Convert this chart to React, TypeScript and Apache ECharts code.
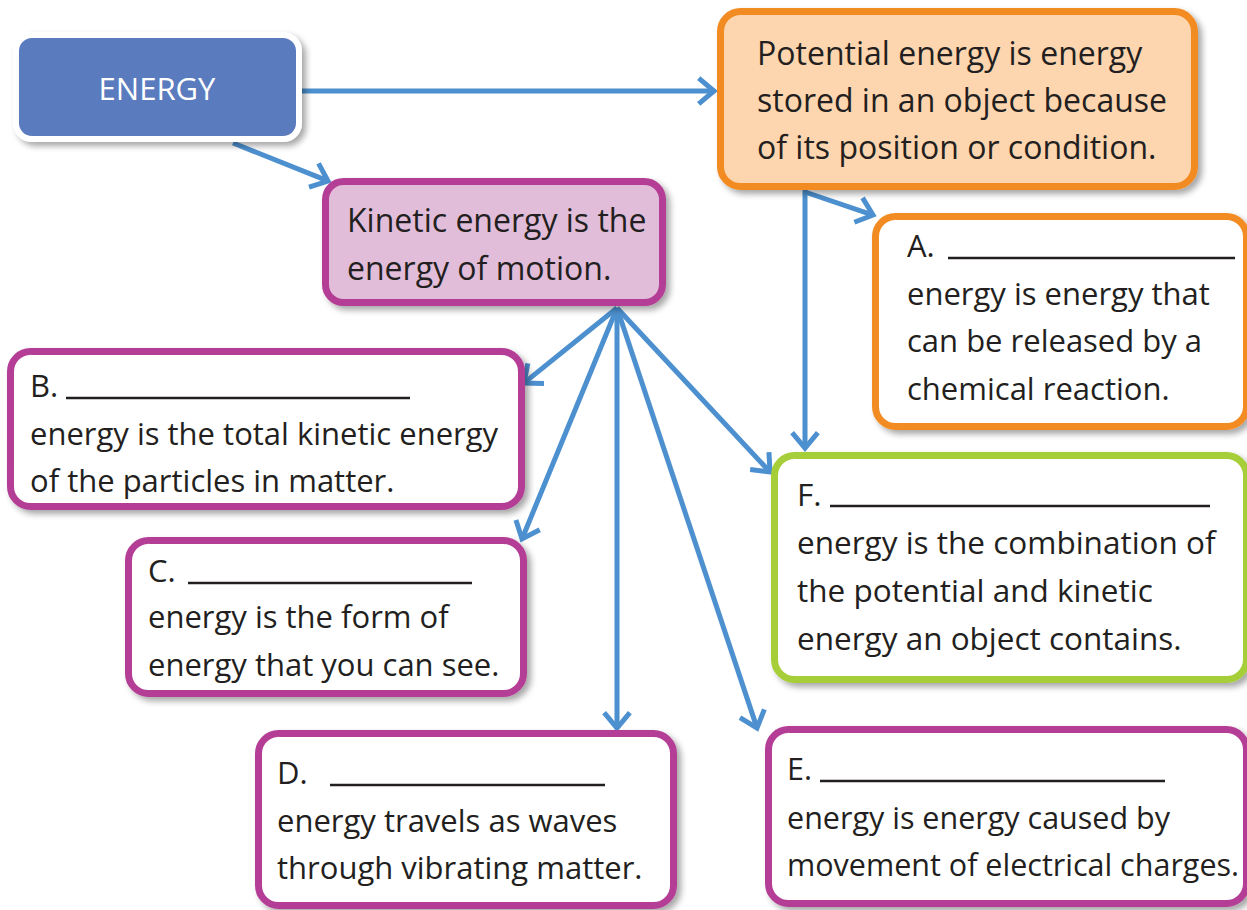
import React, { useEffect, useRef } from "react";
import * as echarts from "echarts";

// ---- content ----
const ROOT_LABEL = "ENERGY";
const POTENTIAL_LINES = [
  "Potential energy is energy",
  "stored in an object because",
  "of its position or condition.",
];
const KINETIC_LINES = ["Kinetic energy is the", "energy of motion."];
const BLANK_LETTERS = ["A.", "B.", "C.", "D.", "E.", "F."];
const BLANK_TEXTS = [
  ["energy is energy that", "can be released by a", "chemical reaction."],
  ["energy is the total kinetic energy", "of the particles in matter."],
  ["energy is the form of", "energy that you can see."],
  ["energy travels as waves", "through vibrating matter."],
  ["energy is energy caused by", "movement of electrical charges."],
  ["energy is the combination of", "the potential and kinetic", "energy an object contains."],
];

// ---- layout (pixels) ----
const FONT = '"Open Sans", "Noto Sans", sans-serif';
const TEXT_COLOR = "#231F20";
const ARROW_COLOR = "#4D90CF";
const PURPLE = "#B43E96";
const ORANGE = "#F28B22";
const GREEN = "#A6CE39";

// blank boxes: outer rect [x1, y1, x2, y2], border colour, text left x, line centres, underline [x1, x2], font size
const BLANK_LAYOUT = [
  { box: [872, 213, 1250, 430], color: ORANGE, tx: 907, ys: [245, 293, 340, 388], ul: [948, 1235], fs: 31 },
  { box: [7, 348, 525, 510], color: PURPLE, tx: 30, ys: [385, 433, 480], ul: [66, 410], fs: 31 },
  { box: [125, 537, 527, 697], color: PURPLE, tx: 148, ys: [570, 616, 664], ul: [188, 472], fs: 31 },
  { box: [255, 730, 677, 909], color: PURPLE, tx: 277, ys: [772, 820, 867], ul: [330, 605], fs: 31 },
  { box: [765, 726, 1250, 907], color: PURPLE, tx: 787, ys: [768, 817, 864], ul: [820, 1165], fs: 30.5 },
  { box: [771, 452, 1250, 683], color: GREEN, tx: 797, ys: [493, 541, 589, 637], ul: [830, 1210], fs: 31.5 },
];

const ARROWS = [
  [300, 91, 714, 91],
  [233, 143, 328, 181],
  [805, 190, 805, 448],
  [805, 192, 873, 215],
  [617, 308, 524, 383],
  [617, 308, 522, 539],
  [617, 308, 617, 728],
  [617, 308, 757, 728],
  [617, 308, 770, 472],
];

const SHADOW = {
  shadowBlur: 6,
  shadowColor: "rgba(0,0,0,0.35)",
  shadowOffsetX: 4,
  shadowOffsetY: 4,
};

function boxEl(b: number[], stroke: string, fill: string, lw: number, r: number) {
  const h = lw / 2;
  return {
    type: "rect",
    shape: { x: b[0] + h, y: b[1] + h, width: b[2] - b[0] - lw, height: b[3] - b[1] - lw, r },
    style: { fill, stroke, lineWidth: lw, ...SHADOW },
    z: 10,
  };
}

function textEl(t: string, x: number, y: number, size: number, color = TEXT_COLOR) {
  return {
    type: "text",
    x,
    y,
    z: 20,
    style: { text: t, font: `${size}px ${FONT}`, fill: color, verticalAlign: "middle", align: "left" },
  };
}

function arrowEls(a: number[]) {
  const [x1, y1, x2, y2] = a;
  const ang = Math.atan2(y2 - y1, x2 - x1);
  const len = 20;
  const spread = (40 * Math.PI) / 180;
  const p1 = [x2 - len * Math.cos(ang - spread), y2 - len * Math.sin(ang - spread)];
  const p2 = [x2 - len * Math.cos(ang + spread), y2 - len * Math.sin(ang + spread)];
  const ex = x2 - 3 * Math.cos(ang);
  const ey = y2 - 3 * Math.sin(ang);
  return [
    {
      type: "line",
      z: 5,
      shape: { x1, y1, x2: ex, y2: ey },
      style: { stroke: ARROW_COLOR, lineWidth: 5, lineCap: "butt" },
    },
    {
      type: "polyline",
      z: 5,
      shape: { points: [p1, [x2, y2], p2] },
      style: { stroke: ARROW_COLOR, lineWidth: 5, fill: null, lineJoin: "miter", lineCap: "butt" },
    },
  ];
}

export default function App() {
  const ref = useRef<HTMLDivElement>(null);
  useEffect(() => {
    document.body.style.margin = "0";
    const chart = echarts.init(ref.current!, null, { renderer: "svg" });
    const els: any[] = [];
    ARROWS.forEach((a) => els.push(...arrowEls(a)));

    // ENERGY root
    els.push(boxEl([13, 32, 302, 142], "#FFFFFF", "#5A7BBE", 6, 16));
    els.push({
      type: "text",
      x: 157,
      y: 88,
      z: 20,
      style: {
        text: ROOT_LABEL,
        font: `31px ${FONT}`,
        fill: "#FFFFFF",
        align: "center",
        verticalAlign: "middle",
      },
    });

    // potential
    els.push(boxEl([717, 8, 1198, 190], ORANGE, "#FDD5AF", 7, 20));
    [52, 99, 146].forEach((y, i) => els.push(textEl(POTENTIAL_LINES[i], 757, y, 32)));

    // kinetic
    els.push(boxEl([322, 178, 666, 306], PURPLE, "#E1BDD9", 7, 18));
    [219, 267].forEach((y, i) => els.push(textEl(KINETIC_LINES[i], 347, y, 32)));

    BLANK_LAYOUT.forEach((L, i) => {
      els.push(boxEl(L.box, L.color, "#FFFFFF", 7, 20));
      els.push(textEl(BLANK_LETTERS[i], L.tx, L.ys[0], L.fs));
      els.push({
        type: "line",
        z: 20,
        shape: { x1: L.ul[0], y1: L.ys[0] + 13, x2: L.ul[1], y2: L.ys[0] + 13 },
        style: { stroke: TEXT_COLOR, lineWidth: 2.5 },
      });
      BLANK_TEXTS[i].forEach((t, j) => els.push(textEl(t, L.tx, L.ys[j + 1], L.fs)));
    });

    chart.setOption({ animation: false, graphic: { elements: els } });
    return () => chart.dispose();
  }, []);
  return <div ref={ref} style={{ width: 1247, height: 910, background: "#fff" }} />;
}
